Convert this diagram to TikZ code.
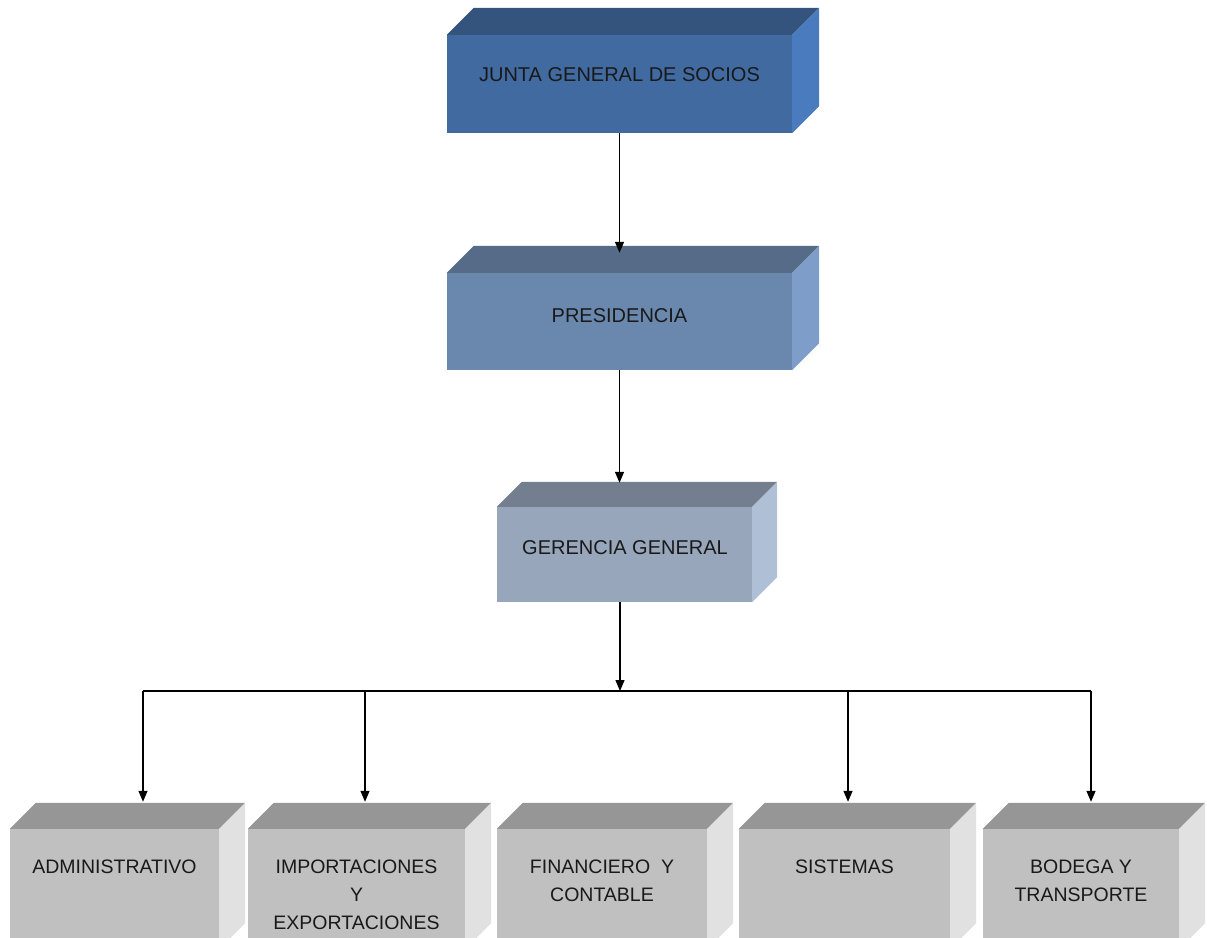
\documentclass[tikz,border=0pt]{standalone}
\usepackage{fontspec}
\setmainfont{Liberation Sans}
\usetikzlibrary{arrows.meta}

\definecolor{juntaF}{HTML}{416AA0}
\definecolor{juntaT}{HTML}{34547E}
\definecolor{juntaS}{HTML}{4A7BBF}
\definecolor{presiF}{HTML}{6A88AE}
\definecolor{presiT}{HTML}{566B88}
\definecolor{presiS}{HTML}{7E9EC9}
\definecolor{gerenF}{HTML}{97A6BA}
\definecolor{gerenT}{HTML}{737F8E}
\definecolor{gerenS}{HTML}{AEBFD6}
\definecolor{deptoF}{HTML}{C0C0C0}
\definecolor{deptoT}{HTML}{969696}
\definecolor{deptoS}{HTML}{E1E1E1}

% top and right faces of a box: node, depth, top colour, side colour
\newcommand\caras[4]{%
  \fill[#3] (#1.north west) -- ++(#2,-#2) -- ([shift={(#2,-#2)}]#1.north east) -- (#1.north east) -- cycle;
  \fill[#4] (#1.north east) -- ([shift={(#2,-#2)}]#1.north east) -- ([shift={(#2,-#2)}]#1.south east) -- (#1.south east) -- cycle;}

\begin{document}
\begin{tikzpicture}[x=1pt, y=-1pt,
    caja/.style={inner sep=0, draw=none, minimum width=#1},
    rotulo/.style={inner sep=0, align=center, text=black!90,
      font=\fontsize{20}{24}\selectfont},
    rotulob/.style={inner sep=0, align=center, text=black!90, anchor=north,
      font=\fontsize{19.5}{28}\selectfont},
    flecha/.style={line width=1.3pt, -{Triangle[length=11pt, width=9pt]}},
  ]
  \clip (0,0) rectangle (1207,937);

  % upper levels
  \node[caja=345, minimum height=98, fill=juntaF] (junta) at (619.5,84) {};
  \caras{junta}{27}{juntaT}{juntaS}
  \node[rotulo] (junta-t) at (619.5,75) {JUNTA GENERAL DE SOCIOS};

  \node[caja=345, minimum height=97, fill=presiF] (presi) at (619.5,321.5) {};
  \caras{presi}{27}{presiT}{presiS}
  \node[rotulo] (presi-t) at (619.5,316) {PRESIDENCIA};

  \node[caja=255, minimum height=95, fill=gerenF] (geren) at (624.5,554.5) {};
  \caras{geren}{25}{gerenT}{gerenS}
  \node[rotulo] (geren-t) at (625,548) {GERENCIA GENERAL};

  % departments
  \foreach \n/\x/\w/\txt in {adm/114.5/209/{ADMINISTRATIVO},
      imp/356.5/217/{IMPORTACIONES\\Y\\EXPORTACIONES},
      fin/602/210/{FINANCIERO\ \ Y\\CONTABLE},
      sis/844.5/211/{SISTEMAS},
      bod/1081/196/{BODEGA Y\\TRANSPORTE}} {
    \node[caja=\w, minimum height=120, fill=deptoF] (\n) at (\x,889) {};
    \caras{\n}{26}{deptoT}{deptoS}
    \node[rotulob] (\n-t) at (\x,860) {\txt};
  }

  % connectors
  \coordinate (bus) at (620,691);
  \coordinate (bi) at (143,691);
  \coordinate (bd) at (1091,691);
  \draw[flecha] (junta.south) -- ([yshift=20pt]presi.north);
  \draw[flecha] (presi.south) -- ([yshift=24pt]geren.north -| presi.south);
  \draw[flecha] (geren.south -| bus) -- (bus);
  \draw[line width=1.3pt] (bi) -- (bd);
  \foreach \n/\x in {adm/143, imp/365, sis/848, bod/1091} {
    \coordinate (t-\n) at (\x,691);
    \draw[flecha] (t-\n) -- ([yshift=27pt]\n.north -| t-\n);
  }
\end{tikzpicture}
\end{document}
